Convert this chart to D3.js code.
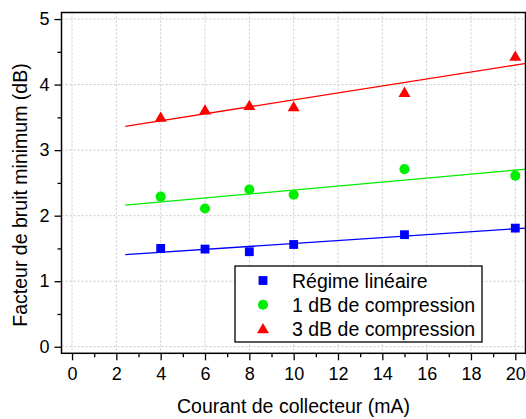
<!DOCTYPE html>
<html>
<head>
<meta charset="utf-8">
<script src="https://cdn.jsdelivr.net/npm/d3@7"></script>
<style>
  html, body { margin: 0; padding: 0; background: #fff; }
  svg { display: block; font-family: Arial, "Liberation Sans", sans-serif; }
</style>
</head>
<body>
<svg id="chart" width="526" height="419"></svg>
<script>
// ---- data ----
const courant = [4, 6, 8, 10, 15, 20];
const lineaire = [1.50, 1.49, 1.45, 1.56, 1.71, 1.81];
const comp1dB = [2.29, 2.11, 2.40, 2.32, 2.71, 2.61];
const comp3dB = [3.50, 3.61, 3.68, 3.66, 3.88, 4.43];
const seriesNames = ["Régime linéaire", "1 dB de compression", "3 dB de compression"];
const xTicks = [0, 2, 4, 6, 8, 10, 12, 14, 16, 18, 20];
const yTicks = [0, 1, 2, 3, 4, 5];
const fitRange = [2.4, 20.5];

const svg = d3.select("#chart");
const L = 61.5, R = 525.5, T = 12.5, B = 353.3;
const x = d3.scaleLinear().domain([-0.475, 20.46]).range([L, R]);
const y = d3.scaleLinear().domain([-0.1, 5.1]).range([B, T]);

const colors = ["#0000ff", "#00ee00", "#ff0000"];
const shapes = [d3.symbolSquare, d3.symbolCircle, d3.symbolTriangle];
const sizes = [78, 80, 62];
const allSeries = [lineaire, comp1dB, comp3dB];

// grid
const grid = svg.append("g");
grid.selectAll("line.gx").data(xTicks).enter().append("line")
  .attr("x1", d => x(d)).attr("x2", d => x(d)).attr("y1", T).attr("y2", B)
  .attr("stroke", "#c8c8c8").attr("stroke-width", 1).attr("stroke-dasharray", "2,2");
grid.selectAll("line.gy").data(yTicks).enter().append("line")
  .attr("y1", d => y(d)).attr("y2", d => y(d)).attr("x1", L).attr("x2", R)
  .attr("stroke", "#c8c8c8").attr("stroke-width", 1).attr("stroke-dasharray", "2,2");

// clip
svg.append("clipPath").attr("id", "clip").append("rect")
  .attr("x", L).attr("y", T).attr("width", R - L).attr("height", B - T);

// regression lines
function fit(xs, ys) {
  const mx = d3.mean(xs), my = d3.mean(ys);
  let sxy = 0, sxx = 0;
  xs.forEach((v, i) => { sxy += (v - mx) * (ys[i] - my); sxx += (v - mx) * (v - mx); });
  const b = sxy / sxx;
  return v => my + b * (v - mx);
}
const plot = svg.append("g").attr("clip-path", "url(#clip)");
allSeries.forEach((s, i) => {
  const f = fit(courant, s);
  plot.append("line")
    .attr("x1", x(fitRange[0])).attr("y1", y(f(fitRange[0])))
    .attr("x2", x(fitRange[1])).attr("y2", y(f(fitRange[1])))
    .attr("stroke", colors[i]).attr("stroke-width", 1.3);
});

// markers
allSeries.forEach((s, i) => {
  svg.append("g").selectAll("path").data(s).enter().append("path")
    .attr("d", d3.symbol().type(shapes[i]).size(sizes[i]))
    .attr("transform", (d, j) => `translate(${x(courant[j])},${y(d) + (i === 2 ? 1 : 0)})`)
    .attr("fill", colors[i]);
});

// axes
const fontSize = "18px";
const ax = svg.append("g").attr("transform", `translate(0,${B})`)
  .call(d3.axisBottom(x).tickValues(xTicks).tickSize(7).tickPadding(7).tickFormat(d3.format("d")));
const axm = svg.append("g").attr("transform", `translate(0,${B})`)
  .call(d3.axisBottom(x).tickValues(d3.range(1, 21, 2)).tickSize(4).tickFormat(""));
const ay = svg.append("g").attr("transform", `translate(${L},0)`)
  .call(d3.axisLeft(y).tickValues(yTicks).tickSize(7).tickPadding(5).tickFormat(d3.format("d")));
const aym = svg.append("g").attr("transform", `translate(${L},0)`)
  .call(d3.axisLeft(y).tickValues([0.5, 1.5, 2.5, 3.5, 4.5]).tickSize(4).tickFormat(""));
[ax, axm, ay, aym].forEach(g => {
  g.select(".domain").remove();
  g.selectAll("line").attr("stroke", "#000").attr("stroke-width", 1.3);
  g.selectAll("text").attr("font-size", fontSize).attr("fill", "#000")
    .attr("font-family", "Arial, 'Liberation Sans', sans-serif");
});

// frame
svg.append("rect").attr("x", L).attr("y", T).attr("width", R - L).attr("height", B - T)
  .attr("fill", "none").attr("stroke", "#000").attr("stroke-width", 1.5);

// axis titles
svg.append("text").attr("x", (L + R) / 2).attr("y", 413).attr("text-anchor", "middle")
  .attr("font-size", "19.5px").text("Courant de collecteur (mA)");
svg.append("text").attr("transform", `translate(27,195) rotate(-90)`).attr("text-anchor", "middle")
  .attr("font-size", "19.5px").text("Facteur de bruit minimum (dB)");

// legend
const lg = svg.append("g");
lg.append("rect").attr("x", 235).attr("y", 266).attr("width", 247).attr("height", 76)
  .attr("fill", "#fff").attr("stroke", "#000").attr("stroke-width", 1.3);
seriesNames.forEach((name, i) => {
  const cy = 280.5 + i * 24.2;
  lg.append("path").attr("d", d3.symbol().type(shapes[i]).size(sizes[i]))
    .attr("transform", `translate(263,${cy + (i === 2 ? 1 : 0)})`).attr("fill", colors[i]);
  lg.append("text").attr("x", 292).attr("y", cy + 7).attr("font-size", "19.5px").text(name);
});
</script>
</body>
</html>
